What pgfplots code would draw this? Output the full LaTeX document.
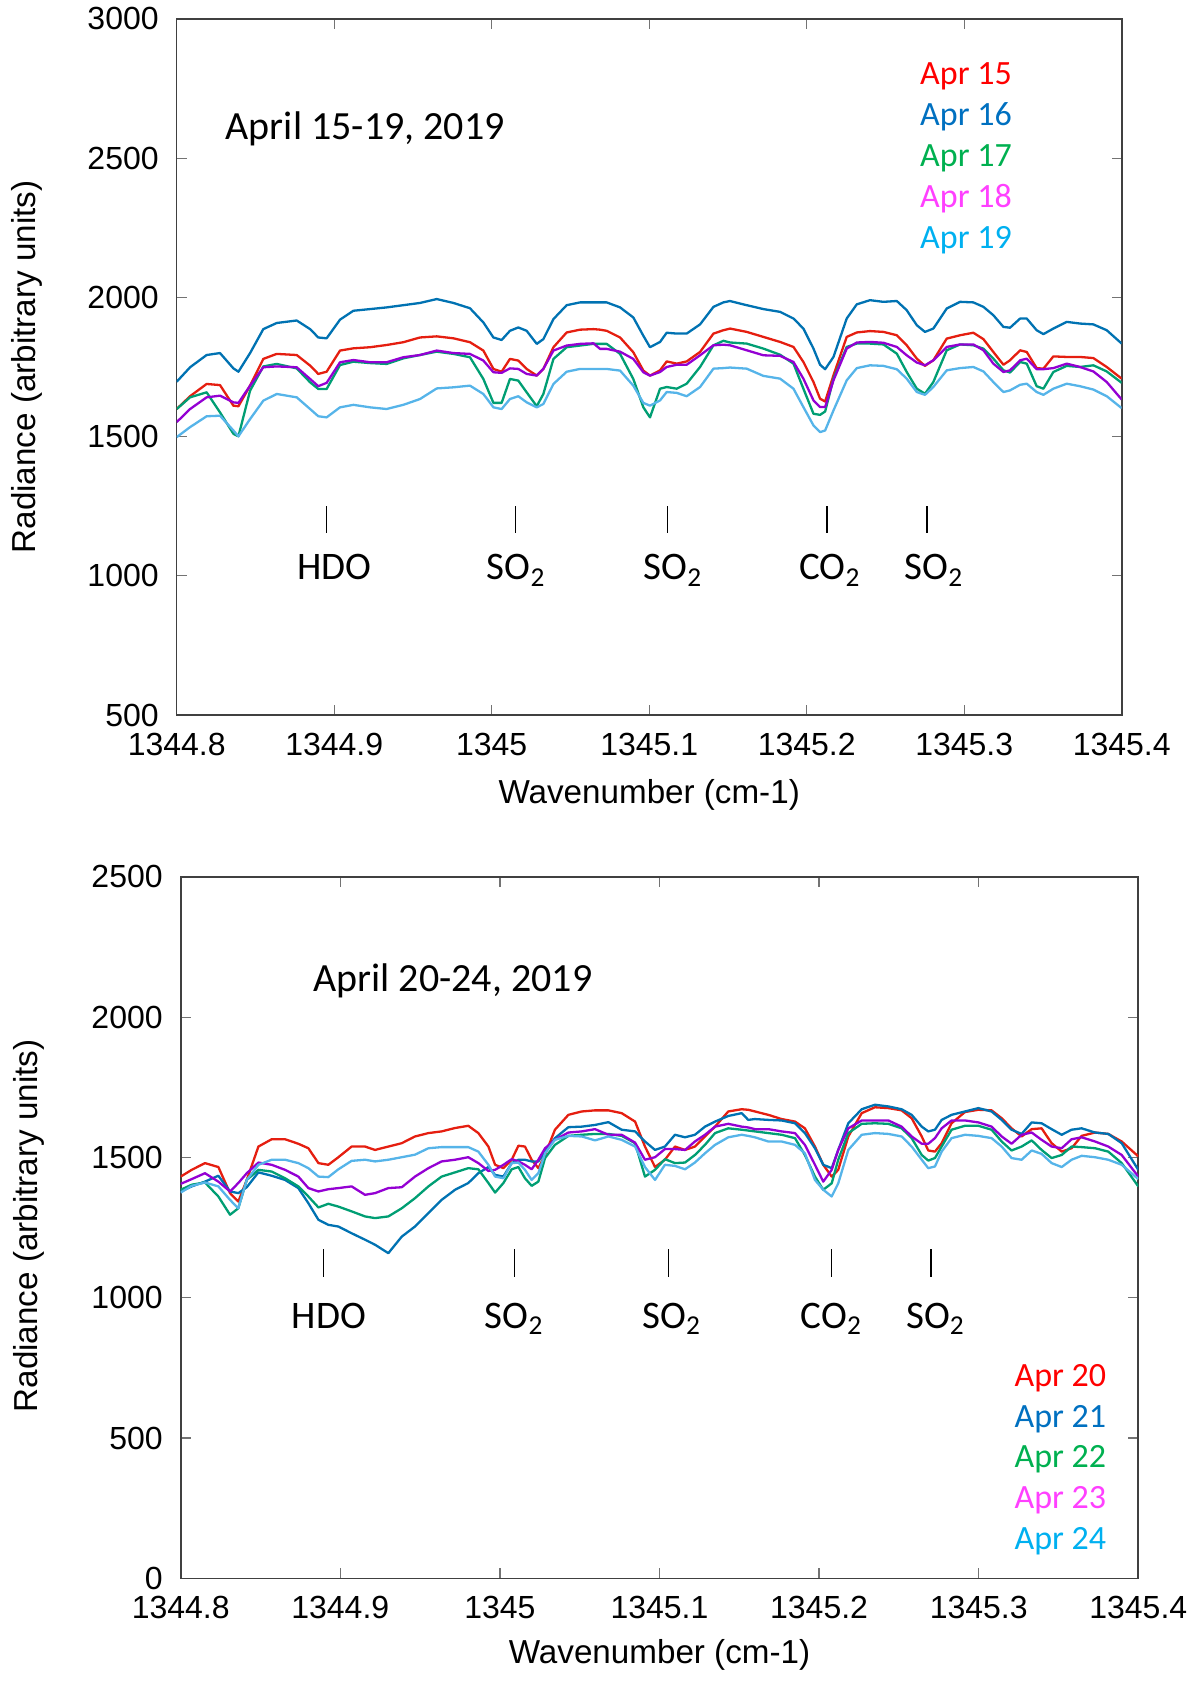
\documentclass[border=0pt]{standalone}
\usepackage{fontspec}
\setmainfont{Liberation Sans}
\newfontfamily\calibri{Carlito}
\usepackage{pgfplots}
\usepackage{pgfplotstable}
\pgfplotsset{compat=1.18}

\definecolor{gpred}{HTML}{E51E10}
\definecolor{gpblue}{HTML}{0072B2}
\definecolor{gpgreen}{HTML}{009E73}
\definecolor{gppurple}{HTML}{9400D3}
\definecolor{gpsky}{HTML}{56B4E9}
\definecolor{tred}{HTML}{FF0000}
\definecolor{tblue}{HTML}{0070C0}
\definecolor{tgreen}{HTML}{00B050}
\definecolor{tmag}{HTML}{FF40FF}
\definecolor{tsky}{HTML}{00B0F0}

\pgfplotstableread{
x a15 a16 a17 a18 a19
1344.8000 1599 1697 1599 1552 1498
1344.8085 1645 1749 1641 1599 1534
1344.8190 1689 1793 1659 1641 1573
1344.8275 1685 1800 1587 1647 1575
1344.8360 1611 1745 1510 1623 1522
1344.8392 1609 1733 1501 1621 1501
1344.8466 1683 1800 1665 1683 1563
1344.8550 1779 1886 1752 1749 1629
1344.8635 1797 1908 1761 1752 1653
1344.8762 1793 1917 1745 1749 1641
1344.8847 1755 1886 1695 1707 1599
1344.8899 1725 1856 1671 1681 1573
1344.8952 1733 1853 1671 1693 1569
1344.9037 1809 1920 1757 1767 1605
1344.9122 1817 1952 1769 1775 1614
1344.9228 1821 1958 1764 1767 1605
1344.9333 1829 1964 1761 1767 1599
1344.9439 1839 1972 1781 1785 1614
1344.9545 1856 1980 1793 1793 1635
1344.9651 1860 1994 1805 1809 1673
1344.9757 1853 1980 1797 1800 1677
1344.9862 1839 1961 1785 1797 1683
1344.9947 1809 1910 1707 1773 1653
1345.0011 1743 1856 1621 1731 1605
1345.0063 1733 1847 1621 1729 1599
1345.0116 1779 1880 1707 1745 1635
1345.0169 1773 1892 1701 1743 1645
1345.0222 1743 1880 1659 1725 1623
1345.0286 1719 1833 1609 1719 1605
1345.0328 1743 1850 1653 1743 1617
1345.0392 1821 1922 1779 1809 1689
1345.0476 1874 1972 1821 1827 1733
1345.0561 1884 1982 1827 1833 1743
1345.0646 1886 1982 1833 1835 1743
1345.0688 1884 1982 1833 1815 1743
1345.0730 1880 1982 1833 1815 1743
1345.0815 1856 1964 1797 1805 1737
1345.0899 1803 1928 1707 1779 1683
1345.0963 1737 1862 1605 1731 1621
1345.1005 1719 1821 1569 1719 1611
1345.1069 1738 1840 1672 1732 1630
1345.1111 1770 1873 1678 1750 1660
1345.1175 1762 1870 1672 1758 1657
1345.1238 1770 1870 1690 1758 1645
1345.1323 1804 1903 1750 1792 1678
1345.1408 1870 1966 1828 1828 1744
1345.1471 1882 1982 1844 1830 1746
1345.1513 1888 1987 1838 1828 1748
1345.1619 1876 1972 1834 1810 1744
1345.1725 1858 1958 1816 1792 1718
1345.1831 1840 1948 1794 1790 1708
1345.1916 1822 1924 1762 1768 1672
1345.1979 1768 1888 1672 1708 1606
1345.2043 1696 1816 1582 1630 1540
1345.2085 1636 1758 1578 1606 1516
1345.2117 1626 1742 1590 1606 1522
1345.2170 1720 1786 1708 1702 1594
1345.2254 1858 1924 1822 1816 1702
1345.2318 1874 1975 1834 1838 1746
1345.2402 1879 1990 1834 1840 1756
1345.2487 1876 1984 1831 1837 1754
1345.2572 1864 1987 1798 1822 1742
1345.2635 1828 1954 1732 1792 1708
1345.2699 1780 1900 1672 1766 1660
1345.2751 1754 1876 1654 1756 1650
1345.2804 1774 1888 1696 1774 1678
1345.2889 1852 1960 1810 1822 1738
1345.2974 1864 1984 1831 1831 1746
1345.3058 1873 1982 1828 1831 1750
1345.3122 1850 1966 1816 1810 1734
1345.3185 1804 1936 1780 1762 1696
1345.3249 1758 1894 1738 1732 1660
1345.3291 1774 1891 1730 1738 1666
1345.3355 1810 1924 1768 1774 1686
1345.3397 1804 1924 1762 1780 1690
1345.3460 1746 1882 1681 1742 1660
1345.3503 1744 1868 1672 1742 1650
1345.3566 1788 1888 1732 1746 1672
1345.3651 1786 1912 1754 1762 1690
1345.3735 1786 1906 1750 1750 1681
1345.3820 1782 1903 1756 1734 1669
1345.3905 1750 1882 1734 1696 1645
1345.4000 1708 1834 1693 1633 1602
}\toptable

\pgfplotstableread{
x a20 a21 a22 a23 a24
1344.8000 1432 1379 1385 1406 1375
1344.8069 1456 1397 1403 1423 1399
1344.8152 1480 1414 1411 1444 1411
1344.8236 1466 1435 1361 1414 1397
1344.8309 1373 1379 1296 1379 1349
1344.8361 1343 1373 1319 1409 1319
1344.8414 1420 1394 1420 1444 1420
1344.8487 1539 1447 1456 1482 1474
1344.8570 1565 1435 1450 1474 1492
1344.8654 1565 1420 1426 1456 1492
1344.8737 1549 1391 1397 1432 1480
1344.8800 1533 1337 1361 1391 1462
1344.8863 1480 1278 1322 1379 1432
1344.8925 1474 1260 1335 1387 1430
1344.8988 1501 1254 1325 1391 1458
1344.9071 1539 1230 1308 1397 1488
1344.9155 1539 1207 1290 1367 1492
1344.9218 1527 1189 1284 1373 1486
1344.9301 1539 1159 1290 1391 1492
1344.9385 1551 1218 1319 1394 1501
1344.9468 1575 1254 1355 1432 1510
1344.9552 1587 1302 1397 1462 1533
1344.9635 1593 1349 1432 1486 1537
1344.9719 1605 1385 1447 1492 1537
1344.9802 1613 1409 1462 1501 1537
1344.9865 1587 1444 1458 1480 1521
1344.9928 1539 1466 1409 1452 1474
1344.9970 1474 1438 1375 1456 1432
1345.0022 1462 1432 1409 1474 1426
1345.0074 1492 1480 1458 1494 1480
1345.0116 1542 1492 1466 1486 1482
1345.0157 1539 1492 1426 1474 1456
1345.0199 1492 1486 1399 1458 1420
1345.0241 1462 1486 1414 1492 1444
1345.0283 1510 1521 1498 1533 1515
1345.0345 1599 1569 1545 1563 1563
1345.0429 1652 1608 1577 1589 1577
1345.0513 1664 1610 1581 1593 1575
1345.0596 1668 1616 1584 1601 1561
1345.0680 1668 1626 1584 1581 1575
1345.0763 1658 1599 1577 1581 1563
1345.0847 1628 1593 1551 1553 1539
1345.0909 1539 1557 1432 1492 1466
1345.0972 1466 1527 1456 1501 1420
1345.1034 1492 1539 1494 1530 1474
1345.1097 1539 1581 1480 1530 1470
1345.1160 1527 1572 1482 1527 1458
1345.1222 1539 1581 1509 1557 1482
1345.1285 1575 1610 1545 1581 1515
1345.1348 1610 1628 1587 1610 1545
1345.1431 1664 1648 1604 1620 1572
1345.1515 1672 1658 1599 1610 1581
1345.1556 1670 1634 1596 1607 1577
1345.1598 1664 1637 1593 1601 1572
1345.1682 1652 1634 1587 1601 1557
1345.1765 1637 1632 1581 1593 1557
1345.1849 1628 1622 1569 1587 1545
1345.1911 1604 1587 1509 1545 1515
1345.1974 1539 1533 1432 1474 1420
1345.2026 1474 1474 1385 1414 1385
1345.2079 1432 1462 1408 1456 1361
1345.2120 1456 1527 1492 1527 1408
1345.2183 1575 1622 1587 1604 1527
1345.2267 1658 1672 1620 1632 1581
1345.2350 1679 1688 1622 1632 1587
1345.2434 1676 1682 1620 1632 1584
1345.2517 1668 1672 1604 1610 1575
1345.2580 1640 1652 1569 1575 1539
1345.2643 1575 1610 1509 1549 1492
1345.2684 1525 1593 1489 1549 1462
1345.2726 1521 1599 1498 1569 1468
1345.2768 1551 1634 1539 1604 1521
1345.2830 1622 1652 1599 1632 1569
1345.2914 1662 1664 1613 1632 1581
1345.2998 1670 1676 1613 1625 1577
1345.3081 1668 1664 1599 1610 1569
1345.3144 1640 1634 1557 1575 1539
1345.3206 1604 1599 1525 1549 1498
1345.3269 1575 1584 1539 1581 1492
1345.3332 1601 1625 1561 1589 1525
1345.3394 1604 1622 1527 1563 1513
1345.3457 1551 1601 1498 1539 1480
1345.3520 1521 1581 1509 1533 1466
1345.3582 1533 1599 1539 1565 1492
1345.3645 1577 1604 1537 1572 1506
1345.3729 1589 1589 1533 1557 1501
1345.3812 1584 1584 1521 1539 1492
1345.3896 1557 1551 1480 1509 1474
1345.4000 1504 1456 1397 1432 1423
}\bottable

\pgfplotsset{myax/.style={
  scale only axis,
  xmin=1344.8, xmax=1345.4,
  xtick={1344.8,1344.9,1345,1345.1,1345.2,1345.3,1345.4},
  xticklabels={1344.8,1344.9,1345,1345.1,1345.2,1345.3,1345.4},
  axis line style={black!75, line width=0.8bp},
  tick style={black!55, line width=0.6bp},
  major tick length=5bp,
  tick align=inside,
  ticklabel style={font=\fontsize{16bp}{19bp}\selectfont},
  xticklabel style={yshift=-5.5bp},
  yticklabel style={xshift=-5.5bp},
  every axis plot/.append style={line width=1.15bp, line join=round},
}}
\newcommand{\annf}{\calibri\fontsize{19.5bp}{23bp}\selectfont}
\newcommand{\legf}{\calibri\fontsize{17bp}{20bp}\selectfont}
\newcommand{\labf}{\fontsize{16.6bp}{19bp}\selectfont}

\begin{document}
\begin{tikzpicture}
\useasboundingbox (0,0) rectangle (600bp,843bp);

% ---------- top panel ----------
\begin{axis}[myax, at={(88.35bp,485.5bp)}, anchor=south west,
  width=472.5bp, height=348bp,
  ymin=500, ymax=3000,
  ytick={500,1000,1500,2000,2500,3000},
  yticklabels={500,1000,1500,2000,2500,3000}]
\addplot[gpred]    table[x=x,y=a15] {\toptable};
\addplot[gpblue]   table[x=x,y=a16] {\toptable};
\addplot[gpgreen]  table[x=x,y=a17] {\toptable};
\addplot[gppurple] table[x=x,y=a18] {\toptable};
\addplot[gpsky]    table[x=x,y=a19] {\toptable};
\addplot[black, line width=0.7bp] coordinates {(1344.8953,1155) (1344.8953,1250)};
\addplot[black, line width=0.7bp] coordinates {(1345.0150,1155) (1345.0150,1250)};
\addplot[black, line width=0.7bp] coordinates {(1345.1116,1155) (1345.1116,1250)};
\addplot[black, line width=0.7bp] coordinates {(1345.2130,1155) (1345.2130,1250)};
\addplot[black, line width=0.7bp] coordinates {(1345.2763,1155) (1345.2763,1250)};
\node[anchor=base, font=\annf] at (axis cs:1344.9000,985) {HDO};
\node[anchor=base, font=\annf] at (axis cs:1345.0155,985) {SO\textsubscript{2}};
\node[anchor=base, font=\annf] at (axis cs:1345.1151,985) {SO\textsubscript{2}};
\node[anchor=base, font=\annf] at (axis cs:1345.2148,985) {CO\textsubscript{2}};
\node[anchor=base, font=\annf] at (axis cs:1345.2808,985) {SO\textsubscript{2}};
\node[anchor=base west, font=\calibri\fontsize{20bp}{24bp}\selectfont] at (axis cs:1344.8267,2566) {April 15-19, 2019};
\node[anchor=base west, font=\legf, text=tred]   at (axis cs:1345.2676,2765) {Apr 15};
\node[anchor=base west, font=\legf, text=tblue]  at (axis cs:1345.2676,2618) {Apr 16};
\node[anchor=base west, font=\legf, text=tgreen] at (axis cs:1345.2676,2471) {Apr 17};
\node[anchor=base west, font=\legf, text=tmag]   at (axis cs:1345.2676,2324) {Apr 18};
\node[anchor=base west, font=\legf, text=tsky]   at (axis cs:1345.2676,2177) {Apr 19};
\end{axis}
\node[font=\labf, rotate=90] at (13.4bp,659.5bp) {Radiance (arbitrary units)};
\node[font=\labf] at (324.6bp,445.5bp) {Wavenumber (cm-1)};

% ---------- bottom panel ----------
\begin{axis}[myax, at={(90.35bp,53.8bp)}, anchor=south west,
  width=478.8bp, height=350.75bp,
  ymin=0, ymax=2500,
  ytick={0,500,1000,1500,2000,2500},
  yticklabels={0,500,1000,1500,2000,2500}]
\addplot[gpred]    table[x=x,y=a20] {\bottable};
\addplot[gpblue]   table[x=x,y=a21] {\bottable};
\addplot[gpgreen]  table[x=x,y=a22] {\bottable};
\addplot[gppurple] table[x=x,y=a23] {\bottable};
\addplot[gpsky]    table[x=x,y=a24] {\bottable};
\addplot[black, line width=0.7bp] coordinates {(1344.8894,1075) (1344.8894,1173)};
\addplot[black, line width=0.7bp] coordinates {(1345.0091,1075) (1345.0091,1173)};
\addplot[black, line width=0.7bp] coordinates {(1345.1055,1075) (1345.1055,1173)};
\addplot[black, line width=0.7bp] coordinates {(1345.2079,1075) (1345.2079,1173)};
\addplot[black, line width=0.7bp] coordinates {(1345.2701,1075) (1345.2701,1173)};
\node[anchor=base, font=\annf] at (axis cs:1344.8929,890) {HDO};
\node[anchor=base, font=\annf] at (axis cs:1345.0090,890) {SO\textsubscript{2}};
\node[anchor=base, font=\annf] at (axis cs:1345.1077,890) {SO\textsubscript{2}};
\node[anchor=base, font=\annf] at (axis cs:1345.2077,890) {CO\textsubscript{2}};
\node[anchor=base, font=\annf] at (axis cs:1345.2729,890) {SO\textsubscript{2}};
\node[anchor=base west, font=\calibri\fontsize{20bp}{24bp}\selectfont] at (axis cs:1344.8787,2090) {April 20-24, 2019};
\node[anchor=base west, font=\legf, text=tred]   at (axis cs:1345.3181,684) {Apr 20};
\node[anchor=base west, font=\legf, text=tblue]  at (axis cs:1345.3181,539) {Apr 21};
\node[anchor=base west, font=\legf, text=tgreen] at (axis cs:1345.3181,394) {Apr 22};
\node[anchor=base west, font=\legf, text=tmag]   at (axis cs:1345.3181,249) {Apr 23};
\node[anchor=base west, font=\legf, text=tsky]   at (axis cs:1345.3181,104) {Apr 24};
\end{axis}
\node[font=\labf, rotate=90] at (14.5bp,230bp) {Radiance (arbitrary units)};
\node[font=\labf] at (329.75bp,15.3bp) {Wavenumber (cm-1)};
\end{tikzpicture}
\end{document}
